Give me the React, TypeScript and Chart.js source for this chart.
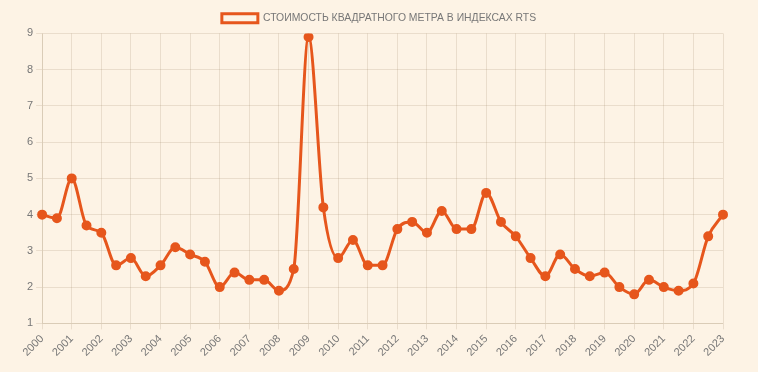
import React, { useEffect, useRef } from "react";
import { Chart, registerables } from "chart.js";

Chart.register(...registerables);

const seriesLabel = "СТОИМОСТЬ КВАДРАТНОГО МЕТРА В ИНДЕКСАХ RTS";

const periods: string[] = [
  "2000", "2000.5", "2001", "2001.5", "2002", "2002.5", "2003", "2003.5",
  "2004", "2004.5", "2005", "2005.5", "2006", "2006.5", "2007", "2007.5",
  "2008", "2008.5", "2009", "2009.5", "2010", "2010.5", "2011", "2011.5",
  "2012", "2012.5", "2013", "2013.5", "2014", "2014.5", "2015", "2015.5",
  "2016", "2016.5", "2017", "2017.5", "2018", "2018.5", "2019", "2019.5",
  "2020", "2020.5", "2021", "2021.5", "2022", "2022.5", "2023",
];

const values: number[] = [
  4.0, 3.9, 5.0, 3.7, 3.5, 2.6, 2.8, 2.3,
  2.6, 3.1, 2.9, 2.7, 2.0, 2.4, 2.2, 2.2,
  1.9, 2.5, 8.9, 4.2, 2.8, 3.3, 2.6, 2.6,
  3.6, 3.8, 3.5, 4.1, 3.6, 3.6, 4.6, 3.8,
  3.4, 2.8, 2.3, 2.9, 2.5, 2.3, 2.4, 2.0,
  1.8, 2.2, 2.0, 1.9, 2.1, 3.4, 4.0,
];

const yMin = 1;
const yMax = 9;

const BG = "#fdf3e5";
const LINE = "#e6561c";
const GRID = "rgba(120, 90, 60, 0.14)";
const TEXT = "#777777";
const FONT = "Liberation Sans, Arial, sans-serif";

const PAD_LEFT = 24;
const PAD_RIGHT = 35;

const centerLegend = {
  id: "centerLegend",
  afterLayout(chart: any) {
    const l = chart.legend;
    if (!l) return;
    const shift = (PAD_RIGHT - PAD_LEFT) / 2;
    l.left += shift;
    l.right += shift;
  },
};

export default function App() {
  const ref = useRef<HTMLCanvasElement | null>(null);

  useEffect(() => {
    document.body.style.margin = "0";
    document.body.style.background = BG;
    const canvas = ref.current;
    if (!canvas) return;
    const chart = new Chart(canvas, {
      type: "line",
      data: {
        labels: periods,
        datasets: [
          {
            label: seriesLabel,
            data: values,
            borderColor: LINE,
            backgroundColor: LINE,
            borderWidth: 3,
            pointRadius: 3.5,
            pointHoverRadius: 3.5,
            pointBackgroundColor: LINE,
            pointBorderColor: LINE,
            tension: 0.4,
            cubicInterpolationMode: "monotone",
          },
        ],
      },
      plugins: [centerLegend],
      options: {
        animation: false,
        responsive: false,
        maintainAspectRatio: false,
        layout: { padding: { left: PAD_LEFT, right: PAD_RIGHT, top: 3, bottom: 10 } },
        plugins: {
          legend: {
            display: true,
            position: "top",
            labels: {
              color: TEXT,
              font: { family: FONT, size: 10.4 },
              boxWidth: 36,
              boxHeight: 9,
              generateLabels: () => [
                {
                  text: seriesLabel,
                  fillStyle: BG,
                  strokeStyle: LINE,
                  lineWidth: 3,
                  fontColor: TEXT,
                  datasetIndex: 0,
                  hidden: false,
                },
              ],
            },
          },
          tooltip: { enabled: false },
        },
        scales: {
          x: {
            grid: { color: GRID, tickLength: 6 },
            border: { color: GRID },
            ticks: {
              color: TEXT,
              font: { family: FONT, size: 11 },
              maxRotation: 45,
              minRotation: 45,
              autoSkip: true,
              maxTicksLimit: 24,
              callback: (_v: any, i: number) => periods[i].split(".")[0],
            },
          },
          y: {
            min: yMin,
            max: yMax,
            grid: { color: GRID, tickLength: 6 },
            border: { color: GRID },
            ticks: {
              stepSize: 1,
              color: TEXT,
              font: { family: FONT, size: 11 },
            },
          },
        },
      },
    });
    return () => chart.destroy();
  }, []);

  return (
    <div style={{ width: 758, height: 372, background: BG }}>
      <canvas ref={ref} width={758} height={372} />
    </div>
  );
}
